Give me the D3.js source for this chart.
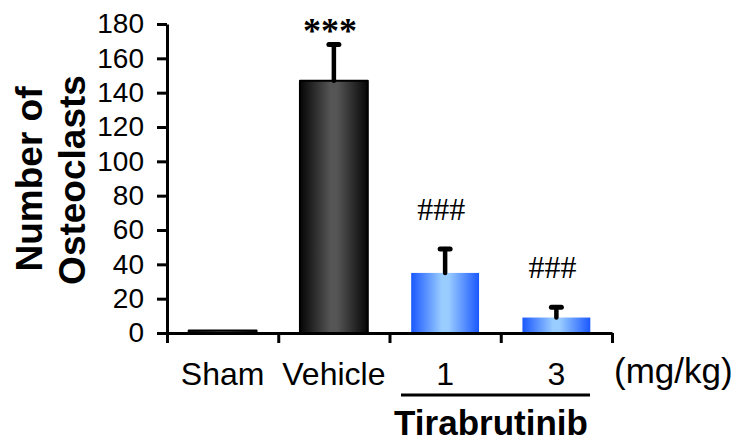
<!DOCTYPE html>
<html>
<head>
<meta charset="utf-8">
<script src="https://cdn.jsdelivr.net/npm/d3@7"></script>
<style>
  body { margin: 0; background: #fff; }
  text { font-family: "Liberation Sans", Arial, sans-serif; fill: #000; }
</style>
</head>
<body>
<div id="chart"></div>
<script>
// Data
var categories = ["Sham", "Vehicle", "1", "3"];
var means = [1.5, 147, 35, 9];
var sems = [0, 21, 14, 6];
var marks = ["", "***", "###", "###"];
var yTicks = [0, 20, 40, 60, 80, 100, 120, 140, 160, 180];

var width = 745, height = 443;

var svg = d3.select("#chart")
  .append("svg")
  .attr("width", width)
  .attr("height", height);

// Gradients for the bars
var defs = svg.append("defs");
function addGradient(id, edge, mid) {
  var g = defs.append("linearGradient")
    .attr("id", id)
    .attr("x1", "0%").attr("x2", "100%")
    .attr("y1", "0%").attr("y2", "0%");
  g.append("stop").attr("offset", "0%").attr("stop-color", edge);
  g.append("stop").attr("offset", "45%").attr("stop-color", mid);
  g.append("stop").attr("offset", "55%").attr("stop-color", mid);
  g.append("stop").attr("offset", "100%").attr("stop-color", edge);
}
addGradient("gradBlack", "#050505", "#555555");
addGradient("gradBlue", "#1a58ff", "#99ccff");

// Scales
var xScale = d3.scaleBand()
  .domain(categories)
  .range([167, 612])
  .paddingInner(0.39)
  .paddingOuter(0.195);

var yScale = d3.scaleLinear()
  .domain([0, 180])
  .range([333, 24]);

// Tick positions on the x axis are at the band borders
var xEdges = d3.scaleLinear()
  .domain([0, categories.length])
  .range(xScale.range());

// Bars
svg.selectAll("rect.bar")
  .data(categories)
  .enter()
  .append("rect")
  .attr("class", "bar")
  .attr("x", function(d) { return xScale(d); })
  .attr("width", xScale.bandwidth())
  .attr("y", function(d, i) { return yScale(means[i]); })
  .attr("height", function(d, i) { return yScale(0) - yScale(means[i]); })
  .attr("fill", function(d, i) { return i < 2 ? "url(#gradBlack)" : "url(#gradBlue)"; })
  .attr("stroke", function(d, i) { return i < 2 ? "#000" : "none"; })
  .attr("stroke-width", 2)
  .attr("stroke-linejoin", "round");

// Error bars (upper only)
var err = svg.selectAll("g.err")
  .data(categories.filter(function(d, i) { return sems[i] > 0; }))
  .enter()
  .append("g")
  .attr("class", "err");

err.append("line")
  .attr("x1", function(d) { return xScale(d) + xScale.bandwidth() / 2; })
  .attr("x2", function(d) { return xScale(d) + xScale.bandwidth() / 2; })
  .attr("y1", function(d) { var i = categories.indexOf(d); return yScale(means[i]); })
  .attr("y2", function(d) { var i = categories.indexOf(d); return yScale(means[i] + sems[i]); })
  .attr("stroke", "#000")
  .attr("stroke-width", 4.5)
  .attr("stroke-linecap", "round");

err.append("line")
  .attr("x1", function(d) { return xScale(d) + xScale.bandwidth() / 2 - 5; })
  .attr("x2", function(d) { return xScale(d) + xScale.bandwidth() / 2 + 5; })
  .attr("y1", function(d) { var i = categories.indexOf(d); return yScale(means[i] + sems[i]); })
  .attr("y2", function(d) { var i = categories.indexOf(d); return yScale(means[i] + sems[i]); })
  .attr("stroke", "#000")
  .attr("stroke-width", 5)
  .attr("stroke-linecap", "round");

// Significance marks
svg.selectAll("text.mark")
  .data(categories)
  .enter()
  .append("text")
  .attr("class", "mark")
  .attr("x", function(d) { return xScale(d) + xScale.bandwidth() / 2 - 4; })
  .attr("y", function(d, i) {
    var top = yScale(means[i] + sems[i]);
    return marks[i] === "***" ? top - 2 : top - 29;
  })
  .attr("text-anchor", "middle")
  .style("font-family", "'Liberation Serif', 'Times New Roman', serif")
  .style("font-size", function(d, i) { return marks[i] === "***" ? "36px" : "32px"; })
  .style("font-weight", function(d, i) { return marks[i] === "***" ? "bold" : "normal"; })
  .text(function(d, i) { return marks[i]; });

// Y axis
var yAxis = d3.axisLeft(yScale)
  .tickValues(yTicks)
  .tickSize(10)
  .tickSizeOuter(0)
  .tickPadding(13);

var yAxisGroup = svg.append("g")
  .attr("transform", "translate(167,0)")
  .call(yAxis);
yAxisGroup.selectAll("path, line")
  .attr("stroke", "#000")
  .attr("stroke-width", 3);
yAxisGroup.selectAll("text")
  .style("font-family", "'Liberation Sans', Arial, sans-serif")
  .style("font-size", "28px");

// X axis
var xAxis = d3.axisBottom(xEdges)
  .tickValues(d3.range(categories.length + 1))
  .tickSize(10)
  .tickSizeOuter(0)
  .tickFormat("");

var xAxisGroup = svg.append("g")
  .attr("transform", "translate(0," + yScale(0) + ")")
  .call(xAxis);
xAxisGroup.selectAll("path, line")
  .attr("stroke", "#000")
  .attr("stroke-width", 3);

// Category labels
svg.selectAll("text.cat")
  .data(categories)
  .enter()
  .append("text")
  .attr("class", "cat")
  .attr("x", function(d) { return xScale(d) + xScale.bandwidth() / 2; })
  .attr("y", 385)
  .attr("text-anchor", "middle")
  .style("font-size", "32px")
  .text(function(d) { return d; });

svg.append("text")
  .attr("x", 614)
  .attr("y", 383)
  .style("font-size", "35px")
  .text("(mg/kg)");

// Tirabrutinib group
svg.append("line")
  .attr("x1", 401).attr("x2", 590)
  .attr("y1", 395).attr("y2", 395)
  .attr("stroke", "#000")
  .attr("stroke-width", 3);

svg.append("text")
  .attr("x", 491)
  .attr("y", 435)
  .attr("text-anchor", "middle")
  .style("font-size", "35px")
  .style("font-weight", "bold")
  .text("Tirabrutinib");

// Y label
svg.append("text")
  .attr("transform", "translate(42,179) rotate(-90)")
  .attr("text-anchor", "middle")
  .style("font-size", "37px")
  .style("font-weight", "bold")
  .text("Number of");

svg.append("text")
  .attr("transform", "translate(85,180) rotate(-90)")
  .attr("text-anchor", "middle")
  .style("font-size", "37px")
  .style("font-weight", "bold")
  .text("Osteoclasts");
</script>
</body>
</html>
